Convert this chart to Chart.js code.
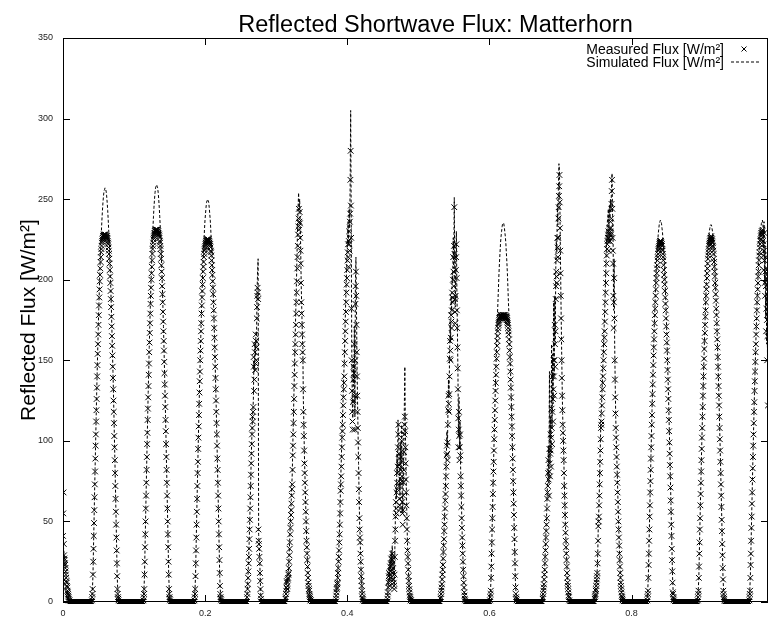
<!DOCTYPE html>
<html>
<head>
<meta charset="utf-8">
<script src="https://cdn.jsdelivr.net/npm/chart.js@4.4.1/dist/chart.umd.min.js"></script>
<style>
  html, body { margin: 0; padding: 0; background: #ffffff; }
  #plot { display: block; }
</style>
</head>
<body>
<canvas id="plot" width="773" height="621"></canvas>
<script>
// ---- Texts and axis ticks ----
const chartTitle = 'Reflected Shortwave Flux: Matterhorn';
const yAxisTitle = 'Reflected Flux [W/m²]';
const seriesLabels = ['Measured Flux [W/m²]', 'Simulated Flux [W/m²]'];
const xTickValues = [0, 0.2, 0.4, 0.6, 0.8];
const yTickValues = [0, 50, 100, 150, 200, 250, 300, 350];
const xRange = [0, 0.992];
const yRange = [0, 350];

// x-axis units between two consecutive samples of each record
const measuredStep = 0.00037;
const simulatedStep = 0.00074;

// =====================  MEASURED FLUX [W/m²]  =====================
// Record opens in the late afternoon of the day before day 1
const measuredEvening = [41,55,68,36,29,27,26,24,23,21,19,17,15,13,12,10,9,7,6,5,4,3,2,1,1,0];

// Night-time readings before each day
const measuredNight = [
  [0,0,0,0,0,0,0,0,0,0, 0,0,0,0,0,0,0,0,0,0, 0,0,0,0,0,0,0,0,0,0, 0,0,0,0,0,0,0,0,0,0, 0,0,0,0,0,0,0,0,0,0, 0,0,0,0,0,0,0,0,0,0, 0,0,0,0,0,0,0,0,0,0, 0,0,0,0,0,0,0,0,0,0, 0,0,0,0],
  [0,0,0,0,0,0,0,0,0,0, 0,0,0,0,0,0,0,0,0,0, 0,0,0,0,0,0,0,0,0,0, 0,0,0,0,0,0,0,0,0,0, 0,0,0,0,0,0,0,0,0,0, 0,0,0,0,0,0,0,0,0,0, 0,0,0,0,0,0,0,0,0,0, 0,0,0,0,0,0,0,0,0,0, 0,0,0,0,0,0,0,0,0,0, 0,0,0,0],
  [0,0,0,0,0,0,0,0,0,0, 0,0,0,0,0,0,0,0,0,0, 0,0,0,0,0,0,0,0,0,0, 0,0,0,0,0,0,0,0,0,0, 0,0,0,0,0,0,0,0,0,0, 0,0,0,0,0,0,0,0,0,0, 0,0,0,0,0,0,0,0,0,0, 0,0,0,0,0,0,0,0,0,0, 0,0,0,0,0,0,0,0,0,0, 0,0],
  [0,0,0,0,0,0,0,0,0,0, 0,0,0,0,0,0,0,0,0,0, 0,0,0,0,0,0,0,0,0,0, 0,0,0,0,0,0,0,0,0,0, 0,0,0,0,0,0,0,0,0,0, 0,0,0,0,0,0,0,0,0,0, 0,0,0,0,0,0,0,0,0,0, 0,0,0,0,0,0,0,0,0,0, 0,0,0,0,0,0,0,0,0,0, 0,0,0,0,0,0,0,0],
  [0,0,0,0,0,0,0,0,0,0, 0,0,0,0,0,0,0,0,0,0, 0,0,0,0,0,0,0,0,0,0, 0,0,0,0,0,0,0,0,0,0, 0,0,0,0,0,0,0,0,0,0, 0,0,0,0,0,0,0,0,0,0, 0,0,0,0,0,0,0,0,0,0, 0,0,0,0,0,0,0,0,0,0, 0,0,0,0,0,0,0,0,0,0, 0,0],
  [0,0,0,0,0,0,0,0,0,0, 0,0,0,0,0,0,0,0,0,0, 0,0,0,0,0,0,0,0,0,0, 0,0,0,0,0,0,0,0,0,0, 0,0,0,0,0,0,0,0,0,0, 0,0,0,0,0,0,0,0,0,0, 0,0,0,0,0,0,0,0,0,0, 0,0,0,0,0,0,0,0,0,0, 0,0,0,0,0,0,0,0,0,0, 0,0,0,0],
  [0,0,0,0,0,0,0,0,0,0, 0,0,0,0,0,0,0,0,0,0, 0,0,0,0,0,0,0,0,0,0, 0,0,0,0,0,0,0,0,0,0, 0,0,0,0,0,0,0,0,0,0, 0,0,0,0,0,0,0,0,0,0, 0,0,0,0,0,0,0,0,0,0, 0,0,0,0,0,0,0,0,0,0, 0,0,0,0,0,0,0,0,0,0, 0,0],
  [0,0,0,0,0,0,0,0,0,0, 0,0,0,0,0,0,0,0,0,0, 0,0,0,0,0,0,0,0,0,0, 0,0,0,0,0,0,0,0,0,0, 0,0,0,0,0,0,0,0,0,0, 0,0,0,0,0,0,0,0,0,0, 0,0,0,0,0,0,0,0,0,0, 0,0,0,0,0,0,0,0,0,0, 0,0,0,0,0,0,0,0,0,0, 0,0,0,0,0,0,0,0,0,0, 0,0,0,0,0,0,0,0,0,0, 0,0],
  [0,0,0,0,0,0,0,0,0,0, 0,0,0,0,0,0,0,0,0,0, 0,0,0,0,0,0,0,0,0,0, 0,0,0,0,0,0,0,0,0,0, 0,0,0,0,0,0,0,0,0,0, 0,0,0,0,0,0,0,0,0,0, 0,0,0,0,0,0,0,0,0,0, 0,0,0,0,0,0,0,0,0,0, 0,0,0,0,0,0,0,0,0,0, 0,0,0,0],
  [0,0,0,0,0,0,0,0,0,0, 0,0,0,0,0,0,0,0,0,0, 0,0,0,0,0,0,0,0,0,0, 0,0,0,0,0,0,0,0,0,0, 0,0,0,0,0,0,0,0,0,0, 0,0,0,0,0,0,0,0,0,0, 0,0,0,0,0,0,0,0,0,0, 0,0,0,0,0,0,0,0,0,0, 0,0,0,0,0,0,0,0,0,0, 0,0,0,0,0,0,0,0],
  [0,0,0,0,0,0,0,0,0,0, 0,0,0,0,0,0,0,0,0,0, 0,0,0,0,0,0,0,0,0,0, 0,0,0,0,0,0,0,0,0,0, 0,0,0,0,0,0,0,0,0,0, 0,0,0,0,0,0,0,0,0,0, 0,0,0,0,0,0,0,0,0,0, 0,0,0,0,0,0,0,0,0,0, 0,0,0,0,0,0,0,0,0,0, 0,0,0,0,0,0],
  [0,0,0,0,0,0,0,0,0,0, 0,0,0,0,0,0,0,0,0,0, 0,0,0,0,0,0,0,0,0,0, 0,0,0,0,0,0,0,0,0,0, 0,0,0,0,0,0,0,0,0,0, 0,0,0,0,0,0,0,0,0,0, 0,0,0,0,0,0,0,0,0,0, 0,0,0,0,0,0,0,0,0,0, 0,0,0,0,0,0,0,0,0,0, 0,0],
  [0,0,0,0,0,0,0,0,0,0, 0,0,0,0,0,0,0,0,0,0, 0,0,0,0,0,0,0,0,0,0, 0,0,0,0,0,0,0,0,0,0, 0,0,0,0,0,0,0,0,0,0, 0,0,0,0,0,0,0,0,0,0, 0,0,0,0,0,0,0,0,0,0, 0,0,0,0,0,0,0,0,0,0, 0,0,0,0,0,0,0,0,0,0],
  [0,0,0,0,0,0,0,0,0,0, 0,0,0,0,0,0,0,0,0,0, 0,0,0,0,0,0,0,0,0,0, 0,0,0,0,0,0,0,0,0,0, 0,0,0,0,0,0,0,0,0,0, 0,0,0,0,0,0,0,0,0,0, 0,0,0,0,0,0,0,0,0,0, 0,0,0,0,0,0,0,0,0,0, 0,0,0,0,0,0,0,0,0,0, 0,0,0,0]
];

// Daylight readings, one row per day
const measuredDaylight = [
  [1,3,5, 8,17,25,33,41,49,57,65,73,81,89,97,104,112,119,126,133,140,147,154,160,166,172,178,184,189,194,199,203,207,211,214,217,219,221,223,224,225,226,226,227,227,228,227,228,227,228,227,
   227,228,226,227,227,226,227,225,226,224,223,222,220,218,216,213,210,206,202,198,193,188,183,177,171,165,159,153,146,139,132,125,118,111,103,96,88,80,72,64,56,48,40,32,24,16,8, 5,3,2,1],
  [1,3,5, 8,17,25,34,42,50,58,66,74,82,90,98,105,113,120,127,134,141,148,155,161,167,173,179,185,190,195,200,204,208,212,216,219,221,223,225,226,227,228,229,229,230,230,231,230,231,230,231,
   231,230,231,230,229,230,229,228,228,227,226,224,223,221,219,216,213,209,205,201,196,191,186,180,174,168,162,156,149,142,135,128,121,113,106,98,90,82,74,66,58,50,42,34,25,17,8, 5,3,2,1],
  [1,3,5, 8,16,24,32,40,48,56,64,72,80,87,95,102,109,116,123,130,137,143,150,156,162,168,173,179,184,189,193,197,201,205,208,211,214,216,218,219,220,221,222,223,223,224,224,225,224,225,224,
   224,225,225,224,223,224,223,222,222,221,220,218,217,215,212,209,206,203,199,195,191,186,181,176,170,164,158,152,146,139,132,125,118,111,104,97,89,82,74,66,58,50,42,34,26,18,10, 5,3,2,1],
  [3,5,8,11,15,19,24,28,33,39,45,51,58,65,72,79,86,92,98,104,108,115,112,118,121,152,146,131,138,160,155,144,148,166,162,150,158,176,183,190,195,192,188,45,38,36,33,28,24,18,13,8,4,2],
  [2,3,5,7,9,13,12,8,10,14,15,17,18,21,25,29,33,37,42,46,50,54,57,61,66,70,73,82,91,97,104,111,118,126,134,141,148,155,160,166,172,179,186,192,199,207,214,221,228,233,
   238,244,231,236,242,235,226,218,210,198,186,179,172,166,160,155,150,132,118,110,103,94,86,80,74,68,62,56,50,44,38,34,30,26,22,18,15,12,10,8,7,5,4,3,2,1,1,0],
  [2,4,6,8,9,11,12,15,18,21,25,28,32,37,42,48,55,62,69,73,78,84,90,96,102,106,110,116,122,127,132,136,140,148,155,162,168,174,180,186,192,197,201,206,212,217,222,214,208,224,
   230,222,218,236,241,262,280,246,226,182,150,131,118,112,107,124,138,146,125,142,160,128,107,150,185,196,205,190,172,155,140,128,118,108,99,90,80,70,62,52,45,40,37,30,25,20,16,13,10,7,5,3,2,1],
  [2,4,6,9,12,16,18,13,10,17,22,19,15,24,27,23,20,26,30,28,24,21,18,14,12,10,8,17,28,38,45,53,62,58,55,68,80,74,70,84,96,104,110,92,85,
   72,64,60,58,74,90,82,76,88,100,78,62,55,48,57,66,74,82,93,104,110,115,106,96,86,76,68,60,52,45,38,32,28,24,20,16,13,10,8,6,4,3,2,1,1],
  [2,3,5,7,9,11,14,17,20,23,27,31,35,39,44,48,53,58,63,67,72,78,84,91,97,92,88,99,110,119,128,123,118,129,140,151,162,156,150,164,178,174,170,181,192,189,186,
   200,214,205,196,221,245,216,188,180,173,190,206,214,222,201,181,170,158,145,132,114,96,107,118,103,88,96,104,91,78,72,66,59,52,46,40,35,30,25,20,16,12,9,6,4,2,1],
  [1,3,5, 7,15,22,30,37,45,52,59,67,74,81,87,94,101,107,113,119,125,131,136,141,146,151,155,159,162,165,168,170,172,173,174,175,176,176,177,177,178,177,178,177,178,177,176,177,178,177,178,
   178,177,178,177,178,176,177,178,177,176,177,176,175,176,175,174,173,172,170,168,166,163,160,156,152,148,143,138,133,127,121,115,109,103,96,89,82,75,68,61,54,46,39,31,24,16,9, 5,3,2,1],
  [2,3,5,7,9,11,14,17,20,24,28,32,36,40,44,48,52,58,64,68,72,80,88,76,66,81,95,86,78,92,104,94,84,102,120,108,98,118,140,126,112,132,150,140,128,150,172,160,146,168,188,
   196,205,202,198,212,226,220,214,226,238,245,252,258,265,248,232,218,204,190,176,163,150,139,128,119,110,105,100,94,88,80,72,66,60,54,48,43,38,34,30,26,22,18,15,12,10,8,6,4,3,1],
  [2,3,4,5,7,8,10,12,14,16,18,24,30,38,47,50,53,60,66,73,80,87,94,101,108,110,112,117,122,127,132,136,140,145,150,155,160,164,168,174,180,186,192,198,204,210,215,219,222,224,
   226,228,230,224,218,226,232,228,224,230,236,232,228,238,247,255,262,244,226,218,210,190,170,186,201,176,150,138,127,117,108,102,96,90,84,79,74,68,62,56,50,45,40,35,30,26,22,18,15,12,10,8,6,4,3,2,1,0],
  [1,3,5, 7,15,23,30,38,45,53,60,68,75,82,89,96,103,110,116,123,129,135,141,147,153,158,163,168,173,178,182,186,190,194,198,201,204,207,209,212,214,216,218,219,220,221,222,223,223,224,224,
   223,224,223,222,222,221,219,218,216,214,212,209,206,203,200,197,193,189,185,181,176,171,166,161,156,150,144,138,132,126,119,113,106,99,92,85,78,71,63,56,48,41,33,26,19,12,6, 5,3,2,1],
  [1,3,5, 7,15,22,30,37,45,52,60,67,74,81,88,95,102,108,115,121,128,134,140,146,151,157,162,167,172,177,181,186,190,194,197,201,204,207,210,213,215,217,219,221,222,223,224,225,226,226,226,
   227,226,225,225,224,223,221,220,218,216,213,211,208,205,202,198,195,191,187,182,178,173,168,163,158,152,146,140,134,128,122,115,108,101,94,87,80,73,66,59,51,44,36,29,21,14,7, 5,3,2,1],
  [1,3,5, 7,15,23,30,38,46,53,61,68,76,83,90,97,104,111,118,124,131,137,143,149,155,160,166,171,176,181,186,190,194,198,202,205,209,212,215,217,220,222,224,225,227,228,229,229,230,230,231,
   228,224,215,222,206,218,229,212,198,190,205,214,196,168,182,201,175,150,165,186,122]
];

// =====================  SIMULATED FLUX [W/m²]  =====================
const simulatedEvening = [38, 34, 30, 27, 23, 19, 16, 12, 9, 6, 4, 2, 1];

const simulatedNight = [
  [0,0,0,0,0,0,0,0,0,0, 0,0,0,0,0,0,0,0,0,0, 0,0,0,0,0,0,0,0,0,0, 0,0,0,0,0,0,0,0,0,0, 0,0],
  [0,0,0,0,0,0,0,0,0,0, 0,0,0,0,0,0,0,0,0,0, 0,0,0,0,0,0,0,0,0,0, 0,0,0,0,0,0,0,0,0,0, 0,0,0,0,0,0,0],
  [0,0,0,0,0,0,0,0,0,0, 0,0,0,0,0,0,0,0,0,0, 0,0,0,0,0,0,0,0,0,0, 0,0,0,0,0,0,0,0,0,0, 0,0,0,0,0,0],
  [0,0,0,0,0,0,0,0,0,0, 0,0,0,0,0,0,0,0,0,0, 0,0,0,0,0,0,0,0,0,0, 0,0,0,0,0,0,0,0,0,0, 0,0,0,0,0,0,0,0,0],
  [0,0,0,0,0,0,0,0,0,0, 0,0,0,0,0,0,0,0,0,0, 0,0,0,0,0,0,0,0,0,0, 0,0,0,0,0,0,0,0,0,0, 0,0,0,0,0,0],
  [0,0,0,0,0,0,0,0,0,0, 0,0,0,0,0,0,0,0,0,0, 0,0,0,0,0,0,0,0,0,0, 0,0,0,0,0,0,0,0,0,0, 0,0,0,0,0,0,0],
  [0,0,0,0,0,0,0,0,0,0, 0,0,0,0,0,0,0,0,0,0, 0,0,0,0,0,0,0,0,0,0, 0,0,0,0,0,0,0,0,0,0, 0,0,0,0,0,0],
  [0,0,0,0,0,0,0,0,0,0, 0,0,0,0,0,0,0,0,0,0, 0,0,0,0,0,0,0,0,0,0, 0,0,0,0,0,0,0,0,0,0, 0,0,0,0,0,0,0,0,0,0, 0,0,0,0,0,0],
  [0,0,0,0,0,0,0,0,0,0, 0,0,0,0,0,0,0,0,0,0, 0,0,0,0,0,0,0,0,0,0, 0,0,0,0,0,0,0,0,0,0, 0,0,0,0,0,0,0],
  [0,0,0,0,0,0,0,0,0,0, 0,0,0,0,0,0,0,0,0,0, 0,0,0,0,0,0,0,0,0,0, 0,0,0,0,0,0,0,0,0,0, 0,0,0,0,0,0,0,0,0],
  [0,0,0,0,0,0,0,0,0,0, 0,0,0,0,0,0,0,0,0,0, 0,0,0,0,0,0,0,0,0,0, 0,0,0,0,0,0,0,0,0,0, 0,0,0,0,0,0,0,0],
  [0,0,0,0,0,0,0,0,0,0, 0,0,0,0,0,0,0,0,0,0, 0,0,0,0,0,0,0,0,0,0, 0,0,0,0,0,0,0,0,0,0, 0,0,0,0,0,0],
  [0,0,0,0,0,0,0,0,0,0, 0,0,0,0,0,0,0,0,0,0, 0,0,0,0,0,0,0,0,0,0, 0,0,0,0,0,0,0,0,0,0, 0,0,0,0,0],
  [0,0,0,0,0,0,0,0,0,0, 0,0,0,0,0,0,0,0,0,0, 0,0,0,0,0,0,0,0,0,0, 0,0,0,0,0,0,0,0,0,0, 0,0,0,0,0,0,0]
];

const simulatedDaylight = [
  [3,8,17,34,50,67,83,98,114,129,143,156,169,182,193,204,214,223,230,237,243,248,252,255,256,257,256,255,252,248,243,237,230,223,214,204,193,182,169,156,143,129,114,98,83,67,50,34,17,8,3],
  [3,8,17,34,51,67,83,99,115,130,144,158,171,183,195,205,215,224,232,239,245,250,254,257,258,259,258,257,254,250,245,239,232,224,215,205,195,183,171,158,144,130,115,99,83,67,51,34,17,8,3],
  [3,8,16,33,49,65,80,96,111,125,139,152,165,177,188,198,208,217,224,231,237,241,245,248,249,250,249,248,245,241,237,231,224,217,208,198,188,177,165,152,139,125,111,96,80,65,49,33,16,8,3],
  [4,10,18,27,37,49,62,76,90,102,112,118,126,150,143,160,153,168,165,192,205,213,42,36,27,15,5],
  [3,6,10,14,12,17,21,29,38,47,55,63,72,80,98,112,127,143,158,172,186,200,216,232,245,254,243,250,236,219,196,182,168,158,126,110,92,79,66,54,42,33,24,17,11,8,5,2,1],
  [3,7,11,15,21,29,37,48,61,75,86,98,110,119,131,142,151,166,179,192,204,214,225,236,222,244,232,258,305,240,160,126,114,148,134,171,115,198,214,184,150,126,106,86,67,49,40,27,18,11,6,2],
  [3,8,14,22,13,26,19,32,24,35,28,21,14,10,33,52,71,64,92,81,113,104,92,71,64,99,84,110,70,55,75,94,120,146,108,86,68,51,37,27,18,11,7,3,1],
  [3,6,10,16,23,30,39,48,58,69,79,92,106,96,119,138,127,151,174,161,190,181,204,198,226,207,251,199,183,215,230,192,168,141,103,127,95,112,84,71,56,43,32,22,13,7,2],
  [3,8,15,31,46,61,76,90,104,118,131,143,155,166,177,186,195,204,211,217,223,227,230,233,235,235,235,233,230,227,223,217,211,204,195,186,177,166,155,143,131,118,104,90,76,61,46,31,15,8,3],
  [3,6,10,16,22,31,40,49,58,71,80,97,73,143,86,115,93,160,108,154,123,186,141,190,161,207,224,217,246,234,258,272,268,240,211,184,160,137,117,106,94,77,64,52,41,32,24,16,11,6,3],
  [3,5,8,12,16,21,33,51,58,72,87,101,116,121,131,141,150,160,171,180,192,205,217,228,235,240,244,232,246,238,250,242,258,266,240,224,181,213,160,136,115,102,90,79,66,54,43,32,24,16,11,6,3,1],
  [3,8,16,31,46,61,76,91,105,119,132,144,156,168,178,188,197,205,213,219,224,229,232,235,236,237,236,235,232,229,224,219,213,205,197,188,178,168,156,144,132,119,105,91,76,61,46,31,16,8,3],
  [3,8,15,31,46,61,75,90,103,117,130,142,154,165,176,186,195,203,210,216,222,226,230,232,234,234,234,232,230,226,222,216,210,203,195,186,176,165,154,142,130,117,103,90,75,61,46,31,15,8,3],
  [3,8,16,31,46,61,76,91,105,119,132,144,156,168,178,188,197,205,213,219,224,229,232,235,236,237,234,216,236,198,221,176,208,160,192,118]
];

// ---- Assemble each record: evening, then night + daylight for every day ----
function buildSeries(evening, nights, daylight, step) {
  const values = evening.slice();
  nights.forEach((night, d) => {
    values.push(...night, ...daylight[d]);
  });
  return values.map((v, i) => ({ x: i * step, y: v }));
}
const measuredPoints = buildSeries(measuredEvening, measuredNight, measuredDaylight, measuredStep);
const simulatedPoints = buildSeries(simulatedEvening, simulatedNight, simulatedDaylight, simulatedStep);

const FONT = "'Liberation Sans', Arial, Helvetica, sans-serif";
const INK = '#000000';

// Plot frame with inward ticks on all four sides
const frameTicks = {
  id: 'frameTicks',
  afterDatasetsDraw(chart) {
    const { ctx, chartArea: a, scales: { x, y } } = chart;
    const len = 7;
    ctx.save();
    ctx.strokeStyle = INK;
    ctx.lineWidth = 1;
    ctx.setLineDash([]);
    ctx.beginPath();
    y.ticks.forEach(t => {
      const py = Math.round(y.getPixelForValue(t.value)) + 0.5;
      ctx.moveTo(a.left, py); ctx.lineTo(a.left + len, py);
      ctx.moveTo(a.right, py); ctx.lineTo(a.right - len, py);
    });
    x.ticks.forEach(t => {
      const px = Math.round(x.getPixelForValue(t.value)) + 0.5;
      ctx.moveTo(px, a.bottom); ctx.lineTo(px, a.bottom - len);
      ctx.moveTo(px, a.top); ctx.lineTo(px, a.top + len);
    });
    ctx.stroke();
    ctx.strokeRect(a.left + 0.5, a.top + 0.5, a.right - a.left - 1, a.bottom - a.top - 1);
    ctx.restore();
  }
};

// Title above the plot
const plotTitle = {
  id: 'plotTitle',
  afterDraw(chart) {
    const { ctx, chartArea: a } = chart;
    ctx.save();
    ctx.font = '23.5px ' + FONT;
    ctx.fillStyle = INK;
    ctx.textAlign = 'center';
    ctx.textBaseline = 'alphabetic';
    ctx.fillText(chartTitle, (a.left + a.right) / 2 + 20, a.top - 6.5);
    ctx.restore();
  }
};

// Key in the upper right corner: text first, then the sample
const plotKey = {
  id: 'plotKey',
  afterDatasetsDraw(chart) {
    const { ctx, chartArea: a } = chart;
    ctx.save();
    ctx.font = '14px ' + FONT;
    ctx.fillStyle = INK;
    ctx.textAlign = 'right';
    ctx.textBaseline = 'alphabetic';
    chart.data.datasets.forEach((ds, i) => {
      const base = a.top + 16 + i * 12.5;
      ctx.fillText(ds.label, a.right - 44, base);
      const cy = base - 5;
      ctx.strokeStyle = INK;
      ctx.lineWidth = 1;
      ctx.beginPath();
      if (ds.showLine === false) {
        const cx = a.right - 24, r = 2.5;
        ctx.setLineDash([]);
        ctx.moveTo(cx - r, cy - r); ctx.lineTo(cx + r, cy + r);
        ctx.moveTo(cx - r, cy + r); ctx.lineTo(cx + r, cy - r);
      } else {
        ctx.setLineDash(ds.borderDash);
        ctx.moveTo(a.right - 37, cy + 0.5); ctx.lineTo(a.right - 7, cy + 0.5);
      }
      ctx.stroke();
    });
    ctx.restore();
  }
};

new Chart(document.getElementById('plot'), {
  type: 'line',
  data: {
    datasets: [
      {
        label: seriesLabels[0],
        data: measuredPoints,
        showLine: false,
        pointStyle: 'crossRot',
        pointRadius: 4,
        pointBorderWidth: 1,
        pointBorderColor: INK,
        pointBackgroundColor: INK,
        borderColor: INK,
        clip: { left: 0, top: 0, right: 0, bottom: 2 }
      },
      {
        label: seriesLabels[1],
        data: simulatedPoints,
        borderColor: INK,
        borderWidth: 1,
        borderDash: [3, 2],
        pointRadius: 0,
        fill: false,
        tension: 0,
        clip: 0
      }
    ]
  },
  options: {
    responsive: false,
    animation: false,
    events: [],
    layout: { padding: { top: 38, right: 1, left: 0, bottom: 0 } },
    plugins: {
      legend: { display: false },
      title: { display: false },
      tooltip: { enabled: false }
    },
    scales: {
      x: {
        type: 'linear',
        min: xRange[0],
        max: xRange[1],
        grid: { display: false, drawTicks: false },
        border: { display: false },
        ticks: {
          font: { family: FONT, size: 9 },
          color: '#222222',
          padding: 6,
          maxRotation: 0,
          callback: v => String(v)
        },
        afterBuildTicks: s => { s.ticks = xTickValues.map(v => ({ value: v })); },
        afterFit: s => { s.height = 19; }
      },
      y: {
        type: 'linear',
        min: yRange[0],
        max: yRange[1],
        grid: { display: false, drawTicks: false },
        border: { display: false },
        ticks: {
          font: { family: FONT, size: 9 },
          color: '#222222',
          padding: 10,
          callback: v => String(v)
        },
        title: {
          display: true,
          text: yAxisTitle,
          color: INK,
          font: { family: FONT, size: 21, lineHeight: 1 },
          padding: { top: 19, bottom: 0 }
        },
        afterBuildTicks: s => { s.ticks = yTickValues.map(v => ({ value: v })); },
        afterFit: s => { s.width = 63; }
      }
    }
  },
  plugins: [frameTicks, plotTitle, plotKey]
});
</script>
</body>
</html>
